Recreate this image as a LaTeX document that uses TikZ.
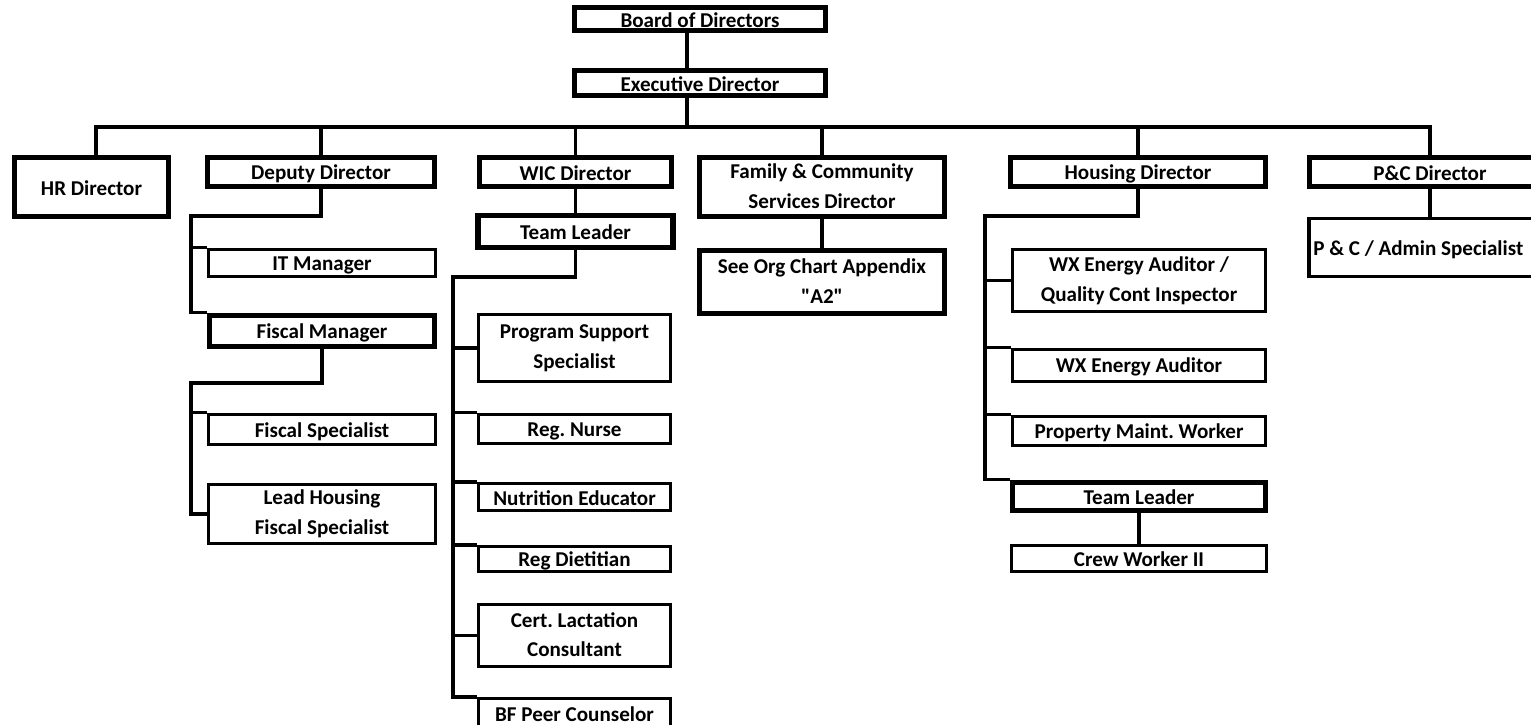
\documentclass[tikz,border=0pt]{standalone}
\usepackage{fontspec}
\setmainfont{Carlito}
\newfontfamily\quotefont{Carlito}
\usepackage{tikz}
\usetikzlibrary{positioning,calc}
\newcommand\orgstrut{\rule[-1pt]{0pt}{11.5pt}}
\tikzset{
  post/.style={rectangle, draw=black, line width=2pt, fill=white, align=center,
               inner sep=0pt, font=\bfseries\fontsize{12}{17}\selectfont\frenchspacing,
               execute at begin node=\orgstrut, execute at end node=\orgstrut},
  lead/.style={post, line width=3.2pt},
  link/.style={line width=2pt, draw=black},
}

\begin{document}
\begin{tikzpicture}
    \useasboundingbox (0,0) rectangle (30.62,-14.50);
    % top of the chart
    \node[lead, minimum width=5.02cm, minimum height=0.46cm] (board) at (14.00,-0.38) {Board of Directors};
    \node[lead, minimum width=5.02cm, minimum height=0.50cm] (exec) at (14.00,-1.66) {Executive Director};
    \coordinate (bus) at (13.74,-2.54);
    % directors
    \node[lead, minimum width=3.08cm, minimum height=1.18cm] (hr) at (1.83,-3.74) {HR Director};
    \node[lead, minimum width=4.54cm, minimum height=0.58cm] (deputy) at (6.42,-3.44) {Deputy Director};
    \node[lead, minimum width=3.84cm, minimum height=0.58cm] (wic) at (11.51,-3.44) {WIC Director};
    \node[lead, minimum width=4.90cm, minimum height=1.18cm] (fcs) at (16.44,-3.74) {Family \& Community\\Services Director};
    \node[lead, minimum width=5.10cm, minimum height=0.58cm] (housing) at (22.76,-3.44) {Housing Director};
    \node[lead, minimum width=4.82cm, minimum height=0.58cm] (pcdir) at (28.60,-3.44) {P\&C Director};
    % deputy director branch
    \node[post, minimum width=4.54cm, minimum height=0.54cm] (itmgr) at (6.44,-5.26) {IT Manager};
    \node[lead, minimum width=4.50cm, minimum height=0.62cm] (fiscmgr) at (6.44,-6.62) {Fiscal Manager};
    \node[post, minimum width=4.54cm, minimum height=0.60cm] (fiscspec) at (6.44,-8.59) {Fiscal Specialist};
    \node[post, minimum width=4.54cm, minimum height=1.18cm] (leadhsg) at (6.44,-10.28) {Lead Housing\\Fiscal Specialist};
    % WIC branch
    \node[lead, minimum width=3.90cm, minimum height=0.64cm] (wictl) at (11.51,-4.63) {Team Leader};
    \node[post, minimum width=3.84cm, minimum height=1.34cm] (progsup) at (11.49,-6.96) {Program Support\\Specialist};
    \node[post, minimum width=3.84cm, minimum height=0.58cm] (nurse) at (11.49,-8.58) {Reg. Nurse};
    \node[post, minimum width=3.84cm, minimum height=0.54cm] (nutri) at (11.49,-9.94) {Nutrition Educator};
    \node[post, minimum width=3.84cm, minimum height=0.50cm] (diet) at (11.49,-11.18) {Reg Dietitian};
    \node[post, minimum width=3.84cm, minimum height=1.24cm] (lact) at (11.49,-12.71) {Cert. Lactation\\Consultant};
    \node[post, minimum width=3.84cm, minimum height=0.58cm] (bfpeer) at (11.49,-14.26) {BF Peer Counselor};
    % family & community services
    \node[lead, minimum width=4.90cm, minimum height=1.26cm] (seeorg) at (16.44,-5.64) {See Org Chart Appendix\\{\quotefont "A2"}};
    % housing branch
    \node[post, minimum width=5.06cm, minimum height=1.24cm] (wxqc) at (22.78,-5.61) {WX Energy Auditor /\\Quality Cont Inspector};
    \node[post, minimum width=5.06cm, minimum height=0.64cm] (wxea) at (22.78,-7.31) {WX Energy Auditor};
    \node[post, minimum width=5.06cm, minimum height=0.58cm] (propmw) at (22.78,-8.62) {Property Maint. Worker};
    \node[lead, minimum width=5.06cm, minimum height=0.56cm] (hsgtl) at (22.78,-9.93) {Team Leader};
    \node[post, minimum width=5.10cm, minimum height=0.52cm] (crew) at (22.78,-11.17) {Crew Worker II};
    % P&C branch
    \node[post, anchor=west, align=flush left, text width=4.70cm, inner xsep=0.09cm, minimum height=1.16cm] (pcadmin)
      at (26.14,-4.95) {P \& C / Admin Specialist};

    % connectors
    \draw[link] (board.south -| bus) -- (exec.north -| bus);
    \draw[link] (exec.south -| bus) -- (bus);
    \draw[link] ($(hr.north)+(0.09,0)$) |- (bus) -| (pcdir.north);
    \foreach \n in {deputy,wic,fcs,housing} \draw[link] (bus -| \n.north) -- (\n.north);
    \draw[link] (fcs) -- (seeorg);
    \draw[link] (pcdir.south) -- (pcdir.south |- pcadmin.north);
    \draw[link] (wic.south) -- (wictl.north);
    \draw[link] (hsgtl) -- (crew);
    \coordinate (dspine) at (3.82,-4.32);
    \draw[link] (deputy.south) |- (dspine) |- (fiscmgr.north west);
    \draw[link] (dspine |- itmgr.north) -- (itmgr.north west);
    \coordinate (fspine) at (3.82,-7.66);
    \draw[link] (fiscmgr.south) |- (fspine) |- (leadhsg.west);
    \draw[link] (fspine |- fiscspec.north) -- (fiscspec.north west);
    \coordinate (wspine) at (9.06,-5.54);
    \draw[link] (wictl.south) |- (wspine) |- (bfpeer.north west);
    \foreach \n in {progsup,lact} \draw[link] (wspine |- \n.west) -- (\n.west);
    \foreach \n in {nurse,nutri,diet} \draw[link] (wspine |- \n.north) -- (\n.north west);
    \coordinate (hspine) at (19.70,-4.32);
    \draw[link] (housing.south) |- (hspine) |- (hsgtl.north west);
    \draw[link] (hspine |- wxqc.west) -- (wxqc.west);
    \foreach \n in {wxea,propmw} \draw[link] (hspine |- \n.north) -- (\n.north west);
  \end{tikzpicture}
\end{document}
